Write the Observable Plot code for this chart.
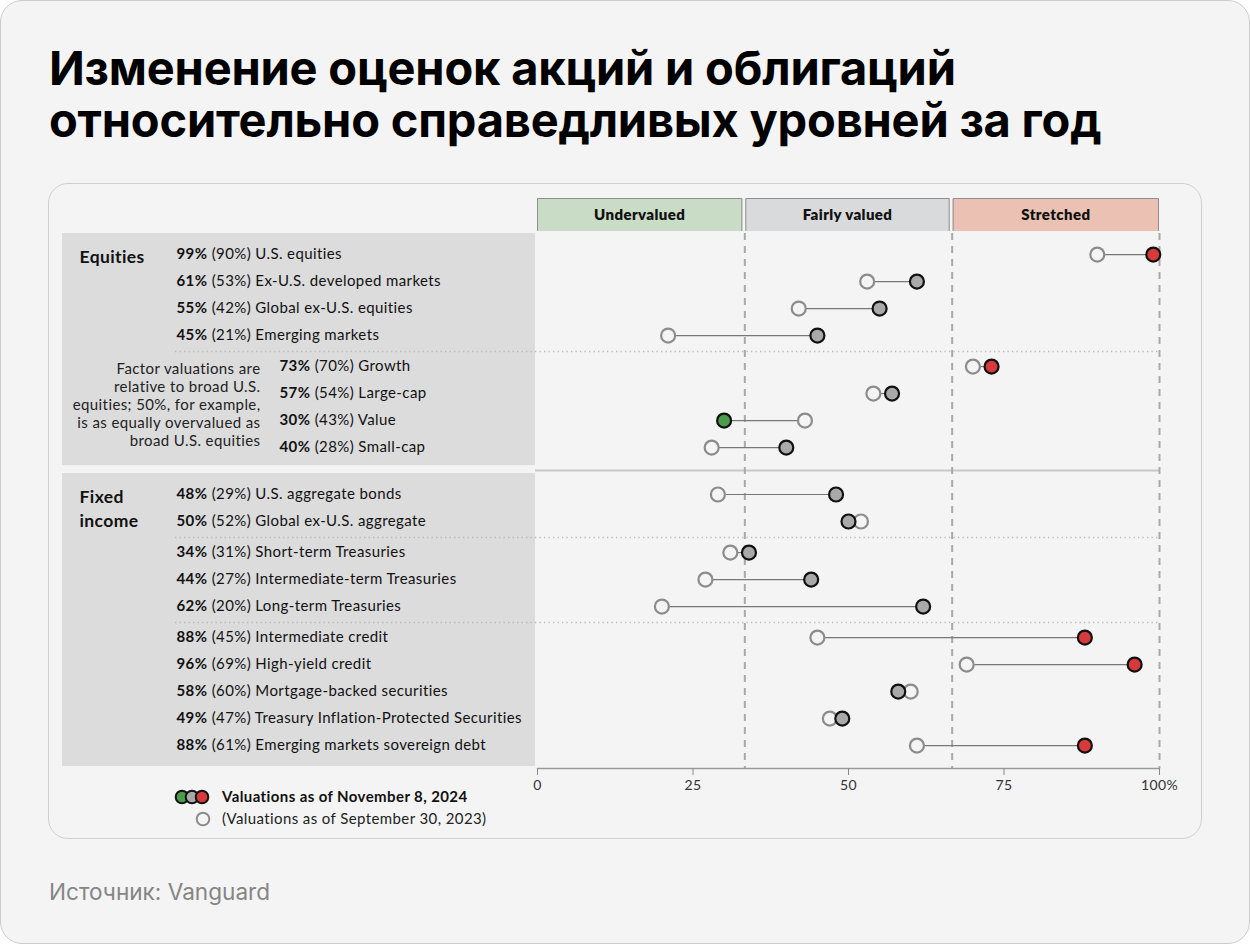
<!DOCTYPE html>
<html>
<head>
<meta charset="utf-8">
<script src="https://cdn.jsdelivr.net/npm/d3@7"></script>
<script src="https://cdn.jsdelivr.net/npm/@observablehq/plot@0.6"></script>
<style>
  html, body { margin: 0; padding: 0; background: #ffffff; }
  #page { position: absolute; left: 0; top: 0; width: 1250px; height: 944px; box-sizing: border-box;
          border: 1px solid #cccccc; border-radius: 22px; background: #f4f4f4; overflow: hidden; }
  #title { position: absolute; left: 48px; top: 41px; font-family: Inter, "Noto Sans", sans-serif; font-weight: 700;
           font-size: 47px; line-height: 52px; color: #000; letter-spacing: -0.2px; margin: 0; }
  #card { position: absolute; left: 47px; top: 182px; width: 1154px; height: 656px; box-sizing: border-box;
          border: 1px solid #cfcfcf; border-radius: 20px; background: #f4f4f4; }
  #chart { position: absolute; left: 0; top: 0; }
  #source { position: absolute; left: 48px; top: 876px; font-family: Inter, "Noto Sans", sans-serif;
            font-size: 22.6px; line-height: 30px; color: #858585; }
</style>
</head>
<body>
<div id="page">
  <h1 id="title">Изменение оценок акций и облигаций<br>относительно справедливых уровней за год</h1>
  <div id="card"><div id="chart"></div></div>
  <div id="source">Источник: Vanguard</div>
</div>
<script>
// ---------------- data ----------------
const names = [
  "U.S. equities", "Ex-U.S. developed markets", "Global ex-U.S. equities", "Emerging markets",
  "Growth", "Large-cap", "Value", "Small-cap",
  "U.S. aggregate bonds", "Global ex-U.S. aggregate",
  "Short-term Treasuries", "Intermediate-term Treasuries", "Long-term Treasuries",
  "Intermediate credit", "High-yield credit", "Mortgage-backed securities",
  "Treasury Inflation-Protected Securities", "Emerging markets sovereign debt"
];
const current  = [99, 61, 55, 45, 73, 57, 30, 40, 48, 50, 34, 44, 62, 88, 96, 58, 49, 88];
const previous = [90, 53, 42, 21, 70, 54, 43, 28, 29, 52, 31, 27, 20, 45, 69, 60, 47, 61];
const groups   = ["eq","eq","eq","eq","eq","eq","eq","eq","fi","fi","fi","fi","fi","fi","fi","fi","fi","fi"];
const subgroups = ["broad","broad","broad","broad","factor","factor","factor","factor",
                   "agg","agg","treas","treas","treas","credit","credit","credit","credit","credit"];
const groupLabels = {eq: "Equities", fi: "Fixed\nincome"};
const zoneLabels = ["Undervalued", "Fairly valued", "Stretched"];
const zoneBounds = [0, 100/3, 200/3, 100];
const xTicks = [0, 25, 50, 75, 100];
const factorNote = "Factor valuations are\nrelative to broad U.S.\nequities; 50%, for example,\nis as equally overvalued as\nbroad U.S. equities";
const legendLabels = ["Valuations as of November 8, 2024", "(Valuations as of September 30, 2023)"];

// ---------------- layout helpers ----------------
const SUB_GAP = 0.15, GROUP_GAP = 0.74;
let pos = 0;
const rows = names.map((name, i) => {
  if (i > 0) {
    if (groups[i] !== groups[i-1]) pos += 1 + GROUP_GAP;
    else if (subgroups[i] !== subgroups[i-1]) pos += 1 + SUB_GAP;
    else pos += 1;
  }
  const c = current[i];
  const zone = c < 100/3 ? "under" : c > 200/3 ? "stretched" : "fair";
  return {name, cur: c, prev: previous[i], group: groups[i], sub: subgroups[i], pos, zone};
});
const total = pos;
const groupRows = Object.keys(groupLabels).map(g => ({label: groupLabels[g], pos: rows.find(r => r.group === g).pos}));
const factorRows = rows.filter(r => r.sub === "factor");
const mainRows = rows.filter(r => r.sub !== "factor");
const noteRow = [{text: factorNote, pos: d3.mean(factorRows, r => r.pos)}];
const dottedSeps = [], groupSeps = [];
for (let i = 1; i < rows.length; i++) {
  const mid = (rows[i].pos + rows[i-1].pos) / 2;
  if (rows[i].group !== rows[i-1].group) groupSeps.push({pos: mid, before: rows[i-1].pos, after: rows[i].pos});
  else if (rows[i].sub !== rows[i-1].sub) dottedSeps.push({pos: mid});
}
const zones = zoneLabels.map((label, i) => ({label, x1: zoneBounds[i], x2: zoneBounds[i+1], zone: ["under","fair","stretched"][i]}));

const FONT = "Lato, 'Noto Sans', sans-serif";
const zoneFill = {under: "#c9dcc5", fair: "#d9dadc", stretched: "#ebc1b4"};
const SEP = "\u2063"; // invisible separator between bold value and rest of label

function decor(index, scales, values, dims) {
  const {x, y} = scales;
  const {width, height, marginLeft, marginTop, marginBottom, marginRight} = dims;
  const g = d3.create("svg:g").attr("text-anchor", "start");
  const panelX0 = marginLeft - 475, panelX1 = marginLeft - 2;
  const gs = groupSeps[0];
  g.append("rect").attr("x", panelX0).attr("width", panelX1 - panelX0)
    .attr("y", marginTop).attr("height", y(gs.before) + 18 - marginTop).attr("fill", "#dcdcdd");
  g.append("rect").attr("x", panelX0).attr("width", panelX1 - panelX0)
    .attr("y", y(gs.after) - 21).attr("height", (height - marginBottom - 2) - (y(gs.after) - 21)).attr("fill", "#dcdcdd");
  for (const s of dottedSeps) {
    g.append("line").attr("x1", marginLeft - 362).attr("x2", width - marginRight)
      .attr("y1", Math.round(y(s.pos)) + 0.5).attr("y2", Math.round(y(s.pos)) + 0.5)
      .attr("stroke", "#b9b9b9").attr("stroke-width", 1.3).attr("stroke-dasharray", "1.3,3.2");
  }
  for (const s of groupSeps) {
    g.append("line").attr("x1", panelX1).attr("x2", width - marginRight + 1)
      .attr("y1", y(s.pos)).attr("y2", y(s.pos)).attr("stroke", "#c8c8c8").attr("stroke-width", 2);
  }
  zones.forEach((z, i) => {
    const x0 = x(z.x1) + (i > 0 ? 1 : 0), x1 = x(z.x2) - (i < 2 ? 2 : 0);
    const top = marginTop - 35, bot = marginTop - 2;
    g.append("rect").attr("x", x0).attr("y", top).attr("width", x1 - x0).attr("height", bot - top).attr("fill", zoneFill[z.zone]);
    g.append("path").attr("d", `M${x0 + 0.5},${bot}V${top + 0.5}H${x1 - 0.5}V${bot}`)
      .attr("fill", "none").attr("stroke", "#8f8f8f").attr("stroke-width", 1);
    g.append("text").attr("x", (x0 + x1) / 2).attr("y", (top + bot) / 2).attr("dy", "0.35em")
      .attr("text-anchor", "middle").attr("font-weight", 800).attr("font-size", 15).attr("fill", "#111").text(z.label);
  });
  const ly1 = height - 41, ly2 = height - 19;
  const lx = marginLeft - 335;
  [["#4a9c4a", -20], ["#a9a9a9", -10], ["#d63a3a", 0]].forEach(([c, dx]) => {
    g.append("circle").attr("cx", lx + dx).attr("cy", ly1).attr("r", 6.3).attr("fill", c).attr("stroke", "#111").attr("stroke-width", 2);
  });
  g.append("circle").attr("cx", lx + 1).attr("cy", ly2).attr("r", 6.3).attr("fill", "#f4f4f4").attr("stroke", "#8c8c8c").attr("stroke-width", 2);
  g.append("text").attr("x", lx + 20).attr("y", ly1).attr("dy", "0.35em").attr("text-anchor", "start")
    .attr("font-weight", 700).attr("font-size", 15).attr("fill", "#111").text(legendLabels[0]);
  g.append("text").attr("x", lx + 20).attr("y", ly2).attr("dy", "0.35em").attr("text-anchor", "start")
    .attr("font-size", 15).attr("fill", "#222").text(legendLabels[1]);
  return g.node();
}

const chart = Plot.plot({
  width: 1152,
  height: 654,
  marginLeft: 488,
  marginRight: 42,
  marginTop: 49,
  marginBottom: 70,
  style: {fontFamily: FONT, fontSize: "14px", background: "transparent", color: "#222", letterSpacing: "0.4px"},
  x: {domain: [0, 100]},
  y: {domain: [-0.78, total + 0.85], reverse: true, axis: null},
  color: {domain: ["under", "fair", "stretched"], range: ["#4a9c4a", "#a9a9a9", "#d63a3a"]},
  marks: [
    decor,
    Plot.ruleX(zoneBounds.slice(1), {stroke: "#a9a9a9", strokeWidth: 2, strokeDasharray: "7,6"}),
    Plot.frame({anchor: "bottom", stroke: "#9a9a9a", strokeWidth: 1.3}),
    Plot.axisX({ticks: xTicks, tickFormat: d => d === 100 ? "100%" : String(d), tickSize: 7, tickPadding: 5,
                stroke: "#8a8a8a", fill: "#333", fontSize: 14, label: null}),
    Plot.link(rows, {x1: "prev", x2: "cur", y1: "pos", y2: "pos", stroke: "#777", strokeWidth: 1.2}),
    Plot.dot(rows, {x: "prev", y: "pos", r: 7, fill: "#f4f4f4", stroke: "#8c8c8c", strokeWidth: 2.2}),
    Plot.dot(rows, {x: "cur", y: "pos", r: 7, fill: "zone", stroke: "#111", strokeWidth: 2.2}),
    Plot.text(mainRows, {y: "pos", text: d => `${d.cur}%${SEP}(${d.prev}%) ${d.name}`, frameAnchor: "left", dx: -361,
                         textAnchor: "start", fill: "#111", fontSize: 15}),
    Plot.text(factorRows, {y: "pos", text: d => `${d.cur}%${SEP}(${d.prev}%) ${d.name}`, frameAnchor: "left", dx: -258,
                           textAnchor: "start", fill: "#111", fontSize: 15}),
    Plot.text(groupRows, {y: "pos", text: "label", frameAnchor: "left", dx: -458, textAnchor: "start",
                          lineAnchor: "top", dy: -9, lineHeight: 1.4, fontWeight: 700, fontSize: 17.5, fill: "#111"}),
    Plot.text(noteRow, {y: "pos", text: "text", frameAnchor: "left", dx: -277, dy: -3, textAnchor: "end",
                        lineHeight: 1.2, fontSize: 15, fill: "#222"})
  ]
});
document.getElementById("chart").appendChild(chart);

// bold the current value inside each row label
d3.select(chart).selectAll("text").filter(function() { return this.textContent.includes(SEP); }).each(function() {
  const parts = this.textContent.split(SEP);
  const t = d3.select(this);
  t.text(null);
  t.append("tspan").attr("font-weight", 700).text(parts[0]);
  t.append("tspan").text(" " + parts[1]);
});
</script>
</body>
</html>
